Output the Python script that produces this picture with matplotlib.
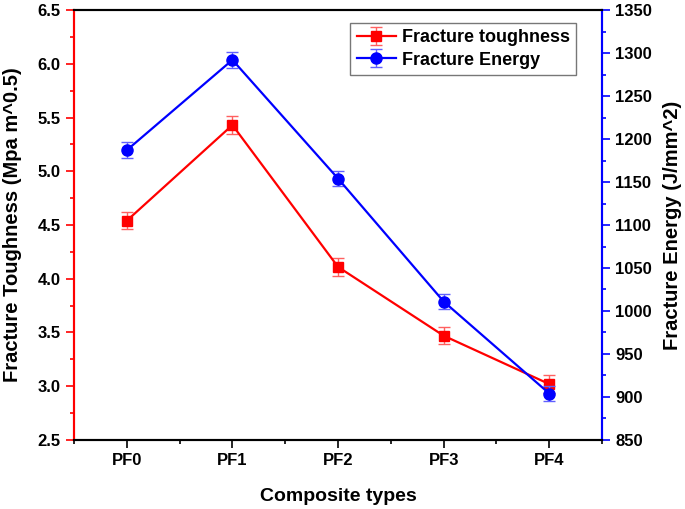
import matplotlib
matplotlib.use("Agg")
import matplotlib.pyplot as plt
from matplotlib.ticker import MultipleLocator

plt.rcParams['font.family'] = ['Liberation Sans', 'DejaVu Sans']
plt.rcParams['font.weight'] = 'bold'

categories = ["PF0", "PF1", "PF2", "PF3", "PF4"]
toughness = [4.54, 5.43, 4.11, 3.47, 3.02]
toughness_err = [0.08, 0.08, 0.08, 0.08, 0.08]
energy = [1187, 1292, 1154, 1011, 904]
energy_err = [9, 9, 9, 9, 9]

red = "#ff0000"
blue = "#0000ff"

fig = plt.figure(figsize=(6.85, 5.09), dpi=100)
ax = fig.add_axes([0.108, 0.1356, 0.771, 0.8447])
ax2 = ax.twinx()

x = list(range(len(categories)))
l1 = ax.errorbar(x, toughness, yerr=toughness_err, color=red, marker="s", ms=7,
                 lw=1.6, ecolor="#ff6060", elinewidth=1, capsize=4, capthick=1,
                 label="Fracture toughness")
l2 = ax2.errorbar(x, energy, yerr=energy_err, color=blue, marker="o", ms=8,
                  lw=1.6, ecolor="#6060ff", elinewidth=1, capsize=4, capthick=1,
                  label="Fracture Energy")

ax.set_xlim(-0.5, 4.5)
ax.set_ylim(2.5, 6.5)
ax2.set_ylim(850, 1350)
ax.set_xticks(x)
ax.set_xticklabels(categories)
ax.xaxis.set_minor_locator(MultipleLocator(0.5))
ax.yaxis.set_major_locator(MultipleLocator(0.5))
ax.yaxis.set_minor_locator(MultipleLocator(0.25))
ax2.yaxis.set_major_locator(MultipleLocator(50))
ax2.yaxis.set_minor_locator(MultipleLocator(25))
ax.yaxis.set_major_formatter(matplotlib.ticker.FormatStrFormatter("%.1f"))

for a in (ax, ax2):
    for s in a.spines.values():
        s.set_linewidth(1.5)
ax.spines["left"].set_color(red)
ax2.spines["left"].set_color(red)
ax2.spines["right"].set_color(blue)
ax.spines["right"].set_color(blue)

ax.tick_params(axis="x", which="both", direction="out", width=1.2, labelsize=12)
ax.tick_params(axis="x", which="major", length=6)
ax.tick_params(axis="x", which="minor", length=3)
ax.tick_params(axis="y", which="both", direction="out", color=red, width=1.2, labelsize=12)
ax.tick_params(axis="y", which="major", length=6)
ax.tick_params(axis="y", which="minor", length=3)
ax2.tick_params(axis="y", which="both", direction="out", color=blue, width=1.2, labelsize=12)
ax2.tick_params(axis="y", which="major", length=6)
ax2.tick_params(axis="y", which="minor", length=3)

ax.set_xlabel("Composite types", fontsize=14, fontweight="bold", labelpad=14)
ax.set_ylabel("Fracture Toughness (Mpa m^0.5)", fontsize=14.5, fontweight="bold", labelpad=11)
ax2.set_ylabel("Fracture Energy (J/mm^2)", fontsize=14.5, fontweight="bold", labelpad=8)

leg = ax.legend([l1, l2], ["Fracture toughness", "Fracture Energy"],
                loc="upper left", bbox_to_anchor=(0.523, 0.97), fontsize=13,
                frameon=True, fancybox=False, edgecolor="#555555",
                handlelength=2.2, handletextpad=0.3, borderpad=0.35, labelspacing=0.3,
                borderaxespad=0)
leg.get_frame().set_linewidth(1.0)

fig.savefig("out.png", dpi=100)
